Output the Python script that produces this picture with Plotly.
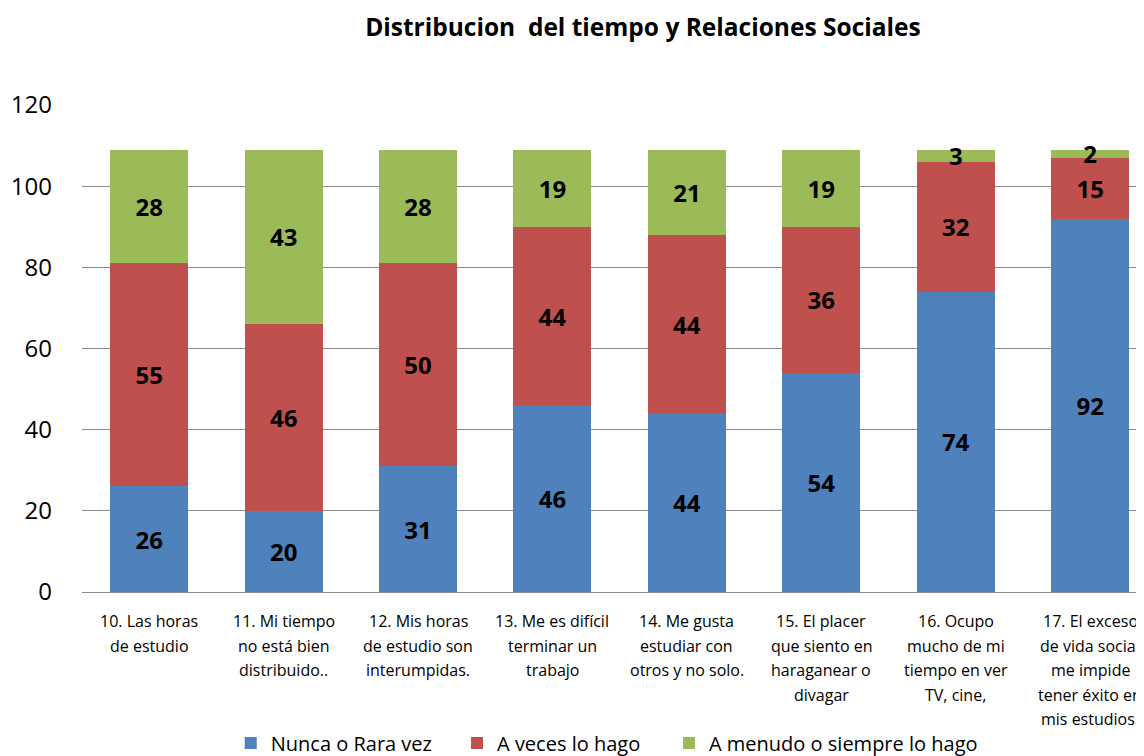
import plotly.graph_objects as go

categories = [
    "10. Las horas<br>de estudio",
    "11. Mi tiempo<br>no está bien<br>distribuido..",
    "12. Mis horas<br>de estudio son<br>interumpidas.",
    "13. Me es difícil<br>terminar un<br>trabajo",
    "14. Me gusta<br>estudiar con<br>otros y no solo.",
    "15. El placer<br>que siento en<br>haraganear o<br>divagar",
    "16. Ocupo<br>mucho de mi<br>tiempo en ver<br>TV, cine,",
    "17. El exceso<br>de vida social<br>me impide<br>tener éxito en<br>mis estudios.",
]
nunca = [26, 20, 31, 46, 44, 54, 74, 92]
a_veces = [55, 46, 50, 44, 44, 36, 32, 15]
a_menudo = [28, 43, 28, 19, 21, 19, 3, 2]

series = [
    ("Nunca o Rara vez", nunca, "#4F81BD"),
    ("A veces lo hago", a_veces, "#C0504D"),
    ("A menudo o siempre lo hago", a_menudo, "#9BBB59"),
]

font = "Open Sans, sans-serif"
xpos = list(range(len(categories)))
legend_names = ["legend", "legend2", "legend3"]
legend_x = [0.139, 0.3505, 0.5486]

fig = go.Figure()
for (name, vals, color), lg in zip(series, legend_names):
    fig.add_trace(go.Bar(
        x=xpos, y=vals, name=name, legend=lg,
        marker=dict(color=color, line=dict(width=0)),
        text=vals, textposition="inside", insidetextanchor="middle", textangle=0,
        textfont=dict(family=font, size=24, color="black", weight="bold"),
        constraintext="none",
    ))

# category labels, one annotation per line so the line spacing matches
for i, label in enumerate(categories):
    for j, line in enumerate(label.split("<br>")):
        fig.add_annotation(
            x=i, xref="x", y=0, yref="paper", yanchor="middle",
            yshift=-29 - j * 24.5, text=line, showarrow=False,
            font=dict(size=16, family=font, color="black"),
        )

legends = {}
for lg, lx in zip(legend_names, legend_x):
    legends[lg] = dict(orientation="h", x=lx, xanchor="left", y=-0.31, yanchor="middle",
                       font=dict(size=20, family=font), bgcolor="rgba(0,0,0,0)")

fig.update_layout(
    barmode="stack",
    bargap=0.42,
    width=1144, height=756,
    margin=dict(l=74, r=0, t=97, b=172),
    paper_bgcolor="white", plot_bgcolor="white",
    font=dict(family=font, color="black"),
    uniformtext=dict(minsize=24, mode="show"),
    title=dict(text="<b>Distribucion  del tiempo y Relaciones Sociales</b>",
               x=0.555, xanchor="center", y=0.974, yanchor="middle",
               font=dict(size=24.5, family=font)),
    showlegend=True,
    **legends,
)
fig.update_xaxes(
    tickmode="array", tickvals=xpos, ticktext=[""] * len(xpos),
    range=[-0.5, 7.46], showgrid=False, showline=False, ticks="",
    automargin=False,
)
fig.update_yaxes(
    range=[0, 120], dtick=20, showgrid=True, gridcolor="#8c8c8c", gridwidth=1,
    zeroline=True, zerolinecolor="#8c8c8c", zerolinewidth=1,
    showline=False, ticks="", tickfont=dict(size=24, family=font),
    ticklabelstandoff=29, automargin=False,
)

fig.write_html("out.html")
